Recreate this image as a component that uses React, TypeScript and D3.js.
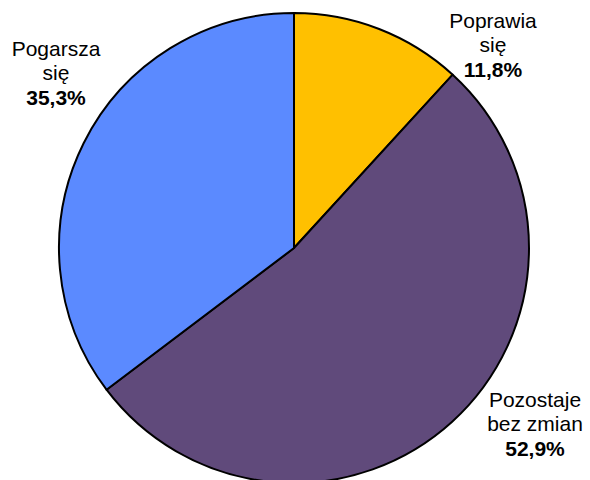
import React from "react";
import * as d3 from "d3";

const categories = ["Poprawia się", "Pozostaje bez zmian", "Pogarsza się"];
const values = [11.8, 52.9, 35.3];
const labelLines = [["Poprawia", "się"], ["Pozostaje", "bez zmian"], ["Pogarsza", "się"]];
const valueLabels = ["11,8%", "52,9%", "35,3%"];
const colors = ["#FFC000", "#604A7B", "#5B8AFF"];

const W = 590, H = 480;
const cx = 294, cy = 248, R = 235;
const labelPos: [number, number][] = [[493, 28], [535, 407], [56, 56]];

export default function App() {
  const pie = d3.pie<number>().sort(null).value((d) => d)(values);
  const arc = d3.arc<d3.PieArcDatum<number>>().innerRadius(0).outerRadius(R);
  return (
    <svg width={W} height={H} style={{ position: "absolute", left: 0, top: 0, background: "#fff" }}
      fontFamily="Liberation Sans, Arial, sans-serif">
      <g transform={`translate(${cx},${cy})`}>
        {pie.map((p, i) => (
          <path key={categories[i]} d={arc(p) || ""} fill={colors[i]} stroke="#000" strokeWidth={2} strokeLinejoin="round" />
        ))}
      </g>
      {labelPos.map(([x, y], i) => (
        <text key={i} x={x} textAnchor="middle" fontSize={21} fill="#000">
          <tspan x={x} y={y}>{labelLines[i][0]}</tspan>
          <tspan x={x} y={y + 24}>{labelLines[i][1]}</tspan>
          <tspan x={x} y={y + 49} fontWeight="bold">{valueLabels[i]}</tspan>
        </text>
      ))}
    </svg>
  );
}
